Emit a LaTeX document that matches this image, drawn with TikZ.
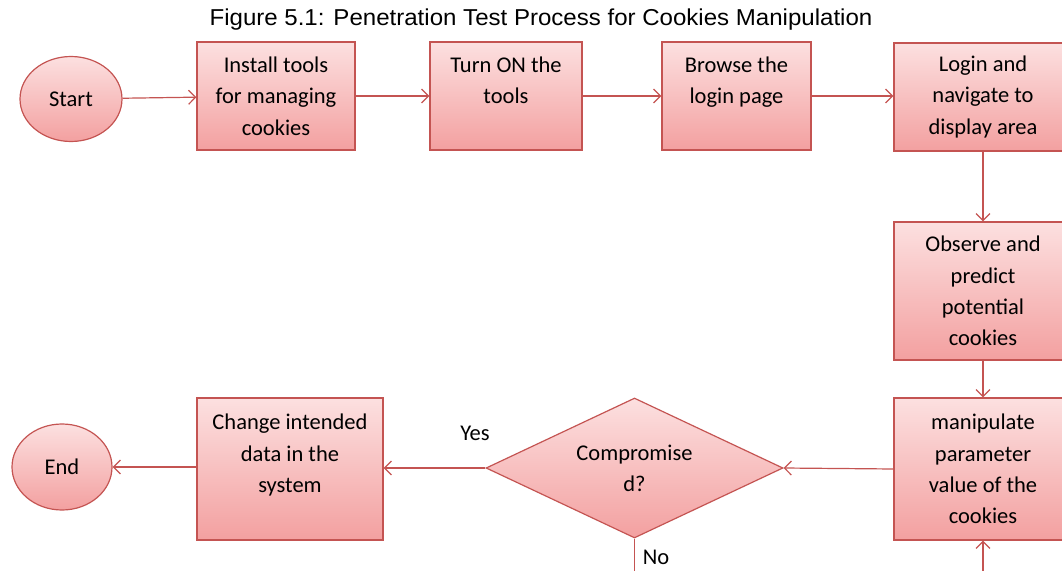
\documentclass[tikz,border=0pt]{standalone}
\usepackage{fontspec}
\setmainfont{Carlito}
\newfontfamily\titlefont{Liberation Sans}
\usetikzlibrary{shapes.geometric,arrows.meta}
\definecolor{edge}{RGB}{196,84,82}
\definecolor{topfill}{RGB}{252,224,224}
\definecolor{botfill}{RGB}{243,160,160}
\tikzset{
  every node/.style={font=\fontsize{22.5bp}{31.3bp}\selectfont, text=black},
  boxnode/.style={draw=edge, line width=1.2bp, top color=topfill, bottom color=botfill, align=center, inner sep=0pt},
  ovalnode/.style={ellipse, draw=edge, line width=1.2bp, top color=topfill, bottom color=botfill, inner sep=0pt},
  decnode/.style={diamond, shape aspect=2.12, draw=edge, line width=1.2bp, top color=topfill, bottom color=botfill, align=center, inner sep=0pt},
  flow/.style={draw=edge, line width=1.2bp, -{Straight Barb[length=7bp,width=14bp,line width=1.2bp]}},
  plain/.style={draw=edge, line width=1.2bp},
  lbl/.style={inner sep=0pt}
}
\begin{document}
\begin{tikzpicture}[x=1bp,y=-1bp]
\useasboundingbox (0,0) rectangle (1062,571);
\clip (0,0) rectangle (1062,571);
\node[lbl, font=\titlefont\fontsize{23bp}{27bp}\selectfont] (title) at (541,20) {\scalebox{1.046}[1]{Figure 5.1: Penetration Test Process for Cookies Manipulation}};

\node[ovalnode, minimum width=102bp, minimum height=85bp] (start) at (71,99) {Start};
\node[boxnode, minimum width=158bp, minimum height=108bp] (install) at (276,96) {Install tools\\for managing\\cookies};
\node[boxnode, minimum width=152bp, minimum height=108bp] (turnon) at (506,96) {Turn ON the\\tools\\\mbox{}};
\node[boxnode, minimum width=149bp, minimum height=108bp] (browse) at (736.5,96) {Browse the\\login page\\\mbox{}};
\node[boxnode, minimum width=178bp, minimum height=108bp] (login) at (983,97) {Login and\\navigate to\\display area};
\node[boxnode, minimum width=178bp, minimum height=138bp] (observe) at (983,291) {Observe and\\predict\\potential\\cookies};
\node[boxnode, minimum width=178bp, minimum height=142bp] (manip) at (983,469) {manipulate\\parameter\\value of the\\cookies};
\node[decnode, minimum width=297bp, minimum height=140bp] (comp) at (634.5,468) {Compromise\\d?};
\node[boxnode, minimum width=186bp, minimum height=142bp] (change) at (290,469) {Change intended\\data in the\\system\\\mbox{}};
\node[ovalnode, minimum width=100bp, minimum height=86bp] (end) at (62,467) {End};

\node[lbl] (yes) at (475,433) {Yes};
\node[lbl] (no) at (656,557) {No};
\coordinate (nobot) at (634.5,575);
\coordinate (manipin) at (983,575);

\draw[flow] (start) -- (install);
\draw[flow] (install) -- (turnon);
\draw[flow] (turnon) -- (browse);
\draw[flow] (browse) -- (login.west |- browse);
\draw[flow] (login) -- (observe);
\draw[flow] (observe) -- (manip);
\draw[flow] (manip.west) -- (comp.east);
\draw[flow] (comp.west) -- (change.east |- comp.west);
\draw[flow] (change.west |- end) -- (end);
\draw[plain] (comp.south) -- (nobot);
\draw[flow] (manipin) -- (manip.south);
\end{tikzpicture}
\end{document}
